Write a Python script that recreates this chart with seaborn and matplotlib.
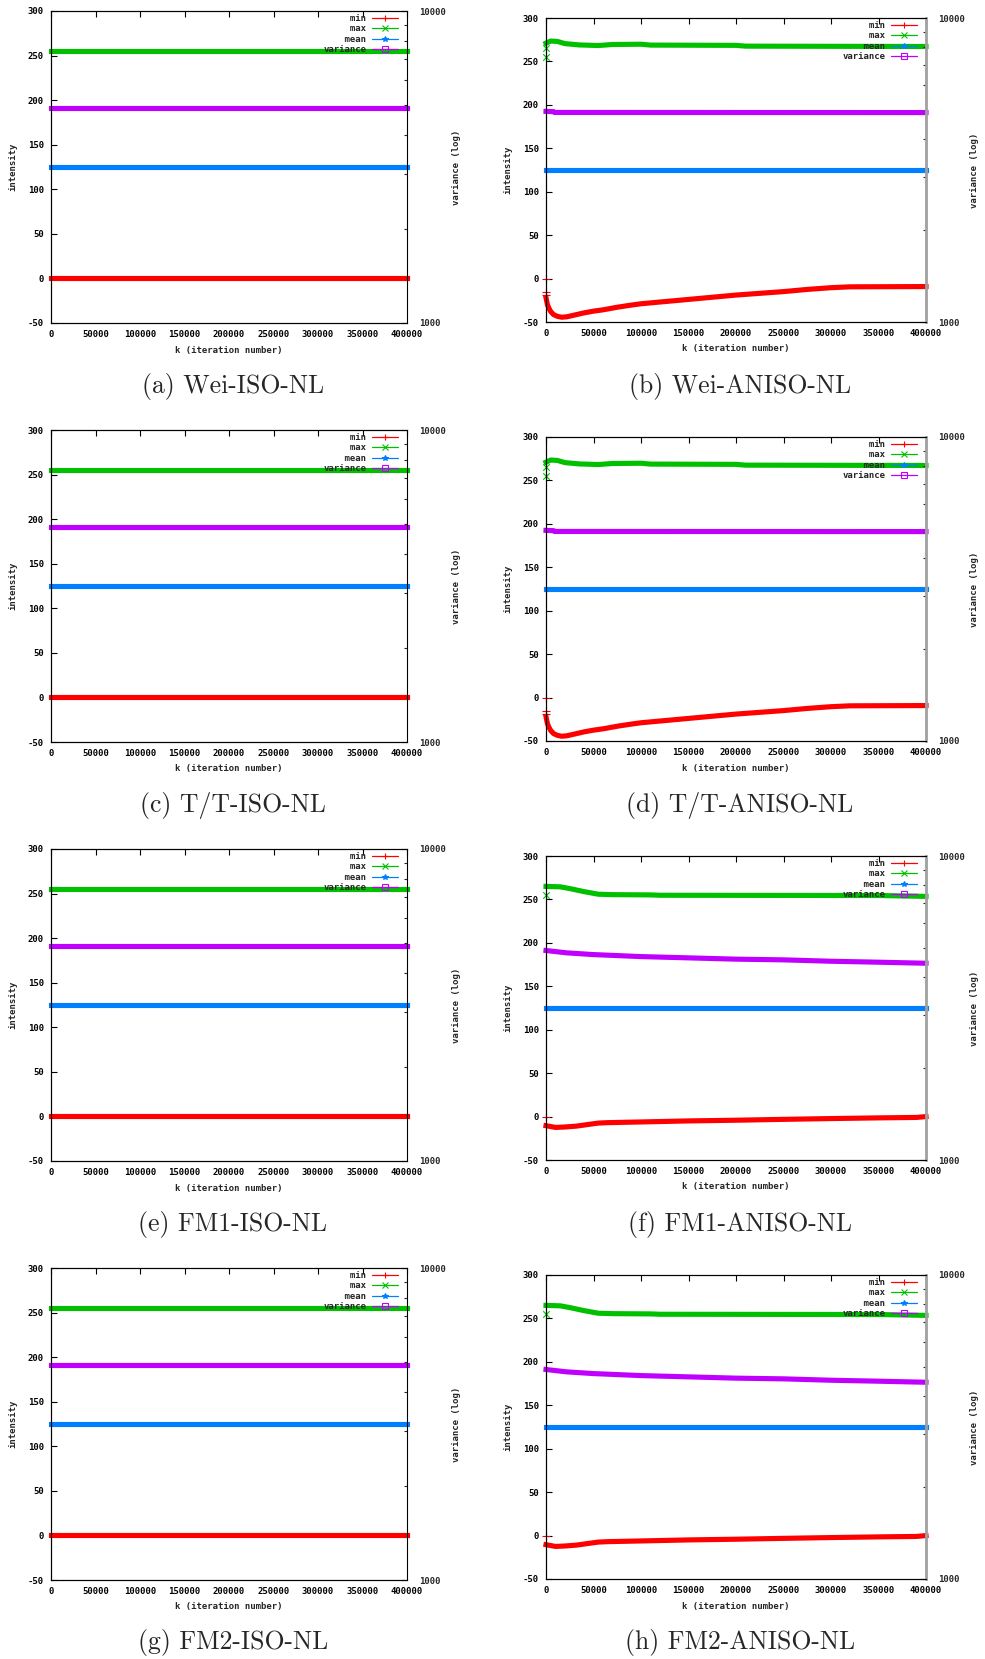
import matplotlib
matplotlib.use("Agg")
import matplotlib.pyplot as plt
from matplotlib.lines import Line2D
from matplotlib.ticker import FixedLocator, NullFormatter
import seaborn as sns
import pandas as pd

# ---------------- data ----------------
captions = ["(a) Wei-ISO-NL", "(b) Wei-ANISO-NL", "(c) T/T-ISO-NL", "(d) T/T-ANISO-NL",
            "(e) FM1-ISO-NL", "(f) FM1-ANISO-NL", "(g) FM2-ISO-NL", "(h) FM2-ANISO-NL"]
series_names = ["min", "max", "mean", "variance"]
legend_labels = ["     min", "     max", "    mean", "variance"]
series_colors = ["#ff0000", "#00c000", "#0080ff", "#c000ff"]
legend_markers = ["+", "x", "*", "s"]

x_ticks = [0, 50000, 100000, 150000, 200000, 250000, 300000, 350000, 400000]
x_ticklabels = ["0", "50000", "100000", "150000", "200000", "250000", "300000", "350000", "400000"]
y_ticks = [-50, 0, 50, 100, 150, 200, 250, 300]
y_ticklabels = ["-50", "0", "50", "100", "150", "200", "250", "300"]
y2_ticks = [1000, 10000]
y2_ticklabels = ["1000", "10000"]
y2_minor = [2000, 3000, 4000, 5000, 6000, 7000, 8000, 9000]

# isotropic runs: constant statistics
iso_k = [0, 400000]
iso_min = [0, 0]
iso_max = [255, 255]
iso_mean = [125, 125]
iso_var = [4900, 4900]

# Wei-ANISO-NL and T/T-ANISO-NL
wei_min_k = [0, 1500, 3000, 5000, 8000, 12000, 16500, 22000, 30000, 40000, 50000, 60000,
             75000, 90000, 100000, 125000, 150000, 175000, 200000, 225000, 250000, 275000,
             300000, 320000, 400000]
wei_min = [-22, -30, -34, -38, -41.5, -43.5, -44.5, -44, -42, -39.5, -37.5, -36,
           -33, -30.5, -29, -26.5, -24, -21.5, -19, -17, -15, -12.5,
           -10.5, -9.5, -9.2]
wei_max_k = [0, 5000, 12000, 20000, 35000, 55000, 70000, 100000, 110000, 200000, 210000, 400000]
wei_max = [271, 273.5, 273, 270.5, 269, 268.3, 269.5, 269.8, 268.8, 268.5, 267.6, 267.2]
wei_mean_k = [0, 400000]
wei_mean = [125, 125]
wei_var_k = [0, 8000, 9000, 400000]
wei_var = [4930, 4920, 4890, 4885]
wei_min_start = [0, -15, -19]
wei_max_start = [255, 266]

tt_min_k, tt_min = wei_min_k, wei_min
tt_max_k, tt_max = wei_max_k, wei_max
tt_mean_k, tt_mean = wei_mean_k, wei_mean
tt_var_k, tt_var = wei_var_k, wei_var
tt_min_start, tt_max_start = wei_min_start, wei_max_start

# FM1-ANISO-NL and FM2-ANISO-NL
fm_min_k = [0, 10000, 20000, 32000, 45000, 55000, 65000, 100000, 150000, 200000, 250000,
            300000, 350000, 390000, 400000]
fm_min = [-10.5, -12.5, -12, -11, -9, -7.5, -7, -6.2, -5, -4.2, -3.2, -2.3, -1.5, -1, 0]
fm_max_k = [0, 15000, 25000, 40000, 55000, 70000, 110000, 120000, 350000, 400000]
fm_max = [265, 264.5, 262.5, 259, 256, 255.5, 255.2, 254.8, 254.5, 253.5]
fm_mean_k = [0, 400000]
fm_mean = [125, 125]
fm_var_k = [0, 21750, 50000, 100000, 150000, 200000, 250000, 300000, 350000, 400000]
fm_var = [4888, 4802, 4739, 4668, 4623, 4578, 4554, 4506, 4474, 4438]
fm_min_start = [0]
fm_max_start = [255]

iso_panel = dict(min=(iso_k, iso_min), max=(iso_k, iso_max), mean=(iso_k, iso_mean),
                 variance=(iso_k, iso_var), min_start=[], max_start=[], aniso=False)
panels = [
    iso_panel,
    dict(min=(wei_min_k, wei_min), max=(wei_max_k, wei_max), mean=(wei_mean_k, wei_mean),
         variance=(wei_var_k, wei_var), min_start=wei_min_start, max_start=wei_max_start, aniso=True),
    iso_panel,
    dict(min=(tt_min_k, tt_min), max=(tt_max_k, tt_max), mean=(tt_mean_k, tt_mean),
         variance=(tt_var_k, tt_var), min_start=tt_min_start, max_start=tt_max_start, aniso=True),
    iso_panel,
    dict(min=(fm_min_k, fm_min), max=(fm_max_k, fm_max), mean=(fm_mean_k, fm_mean),
         variance=(fm_var_k, fm_var), min_start=fm_min_start, max_start=fm_max_start, aniso=True),
    iso_panel,
    dict(min=(fm_min_k, fm_min), max=(fm_max_k, fm_max), mean=(fm_mean_k, fm_mean),
         variance=(fm_var_k, fm_var), min_start=fm_min_start, max_start=fm_max_start, aniso=True),
]

# ---------------- style ----------------
sns.set_style("white")
plt.rcParams["font.family"] = ["DejaVu Sans Mono"]
plt.rcParams["font.weight"] = "bold"
plt.rcParams["axes.labelweight"] = "bold"
plt.rcParams["axes.linewidth"] = 0.8
plt.rcParams["axes.edgecolor"] = "black"

W, H = 985, 1659
fig = plt.figure(figsize=(W / 100, H / 100), dpi=100)
fig.patch.set_facecolor("white")

LW = 3.7
FS = 6.5

for i, p in enumerate(panels):
    r, c = divmod(i, 2)
    if c == 0:
        x0, w, top, h = 51, 356, 11 + 419 * r, 312
    else:
        x0, w, top, h = 546, 380, 18 + 419 * r, 304
    ax = fig.add_axes([x0 / W, 1 - (top + h) / H, w / W, h / H])
    ax2 = ax.twinx()

    for name, col in zip(series_names[:3], series_colors[:3]):
        kk, vv = p[name]
        df = pd.DataFrame({"k": kk, "v": vv})
        sns.lineplot(data=df, x="k", y="v", ax=ax, color=col, lw=LW, estimator=None,
                     sort=False, solid_capstyle="projecting", clip_on=False, legend=False)
    if p["min_start"]:
        sns.scatterplot(x=[0] * len(p["min_start"]), y=p["min_start"], ax=ax, marker="+",
                        color=series_colors[0], s=30, linewidth=0.8, clip_on=False, legend=False)
    if p["max_start"]:
        sns.scatterplot(x=[0] * len(p["max_start"]), y=p["max_start"], ax=ax, marker="x",
                        color=series_colors[1], s=22, linewidth=0.8, clip_on=False, legend=False)

    kk, vv = p["variance"]
    dfv = pd.DataFrame({"k": kk, "v": vv})
    sns.lineplot(data=dfv, x="k", y="v", ax=ax2, color=series_colors[3], lw=LW, estimator=None,
                 sort=False, solid_capstyle="projecting", clip_on=False, legend=False)

    ax.set_xlim(0, 400000)
    ax.set_ylim(-50, 300)
    ax.set_xticks(x_ticks, labels=x_ticklabels)
    ax.set_yticks(y_ticks, labels=y_ticklabels)
    ax.tick_params(axis="both", direction="in", length=4, width=0.8, labelsize=FS, pad=5,
                   top=True, right=False, colors="black")
    ax.tick_params(axis="x", pad=5)

    ax2.set_yscale("log")
    ax2.set_ylim(1000, 10000)
    ax2.yaxis.set_major_locator(FixedLocator(y2_ticks))
    ax2.set_yticks(y2_ticks, labels=y2_ticklabels)
    ax2.yaxis.set_minor_locator(FixedLocator(y2_minor))
    ax2.yaxis.set_minor_formatter(NullFormatter())
    ax2.tick_params(axis="y", which="major", direction="in", length=4, width=0.8,
                    labelsize=FS, pad=9)
    ax2.tick_params(axis="y", which="minor", direction="in", length=2.5, width=0.8)
    ax2.set_xlim(0, 400000)

    ax.spines["right"].set_visible(False)
    if p["aniso"]:
        ax2.spines["right"].set_color("#a0a0a0")
        ax2.spines["right"].set_linewidth(2.0)

    ax.set_xlabel("k (iteration number)", fontsize=FS)
    ax.xaxis.set_label_coords(0.5, -27 / h)
    ax.xaxis.label.set_va("center")
    ax.set_ylabel("intensity", fontsize=FS)
    ax.yaxis.set_label_coords(-38 / w, 0.5)
    ax.yaxis.label.set_va("center")
    ax.yaxis.label.set_ha("center")
    ax2.set_ylabel("variance (log)", fontsize=FS)
    ax2.yaxis.set_label_coords(1 + 49 / w, 0.5)
    ax2.yaxis.label.set_va("center")
    ax2.yaxis.label.set_ha("center")

    handles = [Line2D([], [], color=col, lw=0.9, marker=m, ms=4, mew=0.8,
                      mfc="none" if m == "s" else col)
               for col, m in zip(series_colors, legend_markers)]
    ax2.legend(handles, legend_labels, loc="upper right",
               bbox_to_anchor=(1 - 9 / w, 1 - 3 / h), borderaxespad=0, borderpad=0,
               frameon=False, markerfirst=False, handlelength=2.9, handletextpad=0.6,
               labelspacing=0.15, prop={"family": "DejaVu Sans Mono", "weight": "bold",
                                         "size": FS})

    cx = x0 + w / 2 + 4
    cy = 386 + 419 * r
    fig.text(cx / W, 1 - cy / H, captions[i], ha="center", va="center", fontsize=18.5,
             family=["cmr10", "DejaVu Serif"], weight="normal")

fig.savefig("out.png", dpi=100, facecolor="white")
